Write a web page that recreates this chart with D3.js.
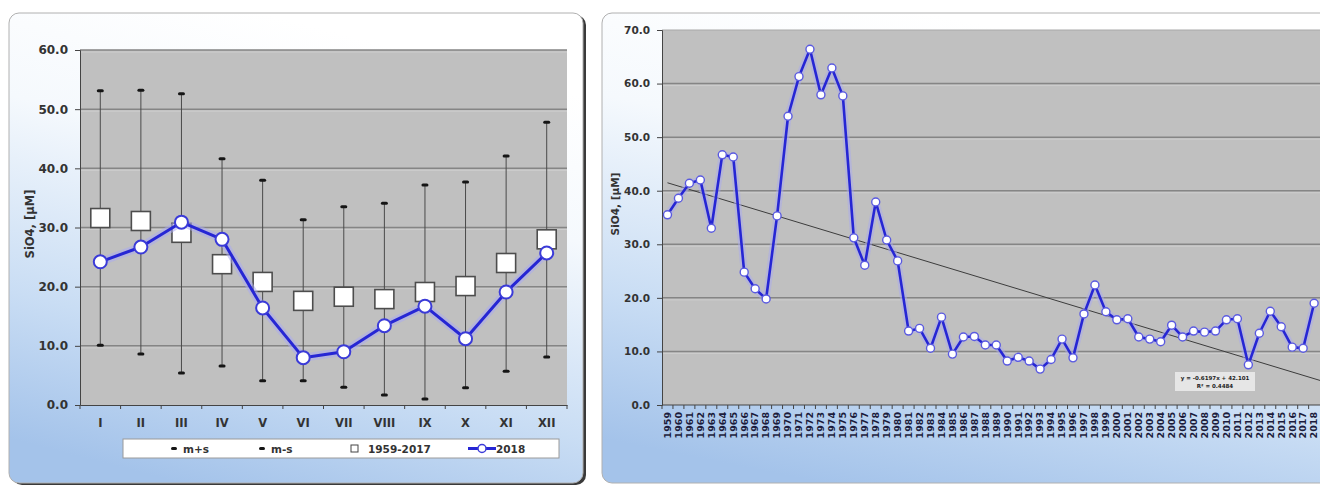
<!DOCTYPE html>
<html>
<head>
<meta charset="utf-8">
<script src="https://cdn.jsdelivr.net/npm/d3@7"></script>
<style>
  html, body { margin: 0; padding: 0; background: #ffffff; }
  svg { display: block; }
  text { font-family: "DejaVu Sans", Verdana, sans-serif; font-weight: bold; }
</style>
</head>
<body>
<svg id="chart" width="1320" height="485"></svg>
<script>
// ---- Monthly climatology of SiO4 (µM) ----
const months = ["I", "II", "III", "IV", "V", "VI", "VII", "VIII", "IX", "X", "XI", "XII"];
const meanPlusSd  = [53.1, 53.2, 52.6, 41.6, 38.0, 31.3, 33.5, 34.1, 37.2, 37.7, 42.1, 47.8];
const meanMinusSd = [10.1, 8.6, 5.4, 6.6, 4.1, 4.1, 3.0, 1.7, 1.0, 2.9, 5.7, 8.1];
const mean1959to2017 = [31.6, 31.1, 29.1, 23.8, 20.8, 17.6, 18.3, 17.9, 19.1, 20.1, 24.0, 28.0];
const values2018 = [24.2, 26.7, 30.9, 28.0, 16.4, 8.0, 9.0, 13.4, 16.7, 11.2, 19.1, 25.7];
const monthlyTicks = [0, 10, 20, 30, 40, 50, 60];
const legendLabels = ["m+s", "m-s", "1959-2017", "2018"];

// ---- Annual mean SiO4 (µM), 1959–2018 ----
const years = [1959, 1960, 1961, 1962, 1963, 1964, 1965, 1966, 1967, 1968,
               1969, 1970, 1971, 1972, 1973, 1974, 1975, 1976, 1977, 1978,
               1979, 1980, 1981, 1982, 1983, 1984, 1985, 1986, 1987, 1988,
               1989, 1990, 1991, 1992, 1993, 1994, 1995, 1996, 1997, 1998,
               1999, 2000, 2001, 2002, 2003, 2004, 2005, 2006, 2007, 2008,
               2009, 2010, 2011, 2012, 2013, 2014, 2015, 2016, 2017, 2018];
const annualSiO4 = [35.5, 38.6, 41.4, 42.0, 33.0, 46.7, 46.3, 24.8, 21.7, 19.8,
                    35.3, 53.9, 61.3, 66.4, 57.9, 62.9, 57.7, 31.2, 26.1, 37.9,
                    30.8, 26.9, 13.8, 14.3, 10.6, 16.4, 9.5, 12.7, 12.8, 11.2,
                    11.2, 8.2, 8.9, 8.2, 6.7, 8.5, 12.3, 8.8, 17.0, 22.4,
                    17.4, 15.9, 16.1, 12.7, 12.3, 11.8, 14.9, 12.7, 13.8, 13.6,
                    13.8, 15.9, 16.1, 7.5, 13.4, 17.5, 14.6, 10.8, 10.6, 19.0];
const annualTicks = [0, 10, 20, 30, 40, 50, 60, 70];

const yTitle = "SiO4, [µM]";

const svg = d3.select("#chart");
const defs = svg.append("defs");

// card background: white at the top fading to light blue at the bottom
const grad = defs.append("linearGradient")
  .attr("id", "cardFill")
  .attr("x1", 0.6).attr("y1", 0.05).attr("x2", 0.3).attr("y2", 1);
grad.append("stop").attr("offset", 0).attr("stop-color", "#ffffff");
grad.append("stop").attr("offset", 0.3).attr("stop-color", "#f5f9fd");
grad.append("stop").attr("offset", 0.7).attr("stop-color", "#c9ddf4");
grad.append("stop").attr("offset", 1).attr("stop-color", "#a4c3ea");

function card(x, y, w, h, shadow) {
  if (shadow) {
    svg.append("rect").attr("x", x + 3).attr("y", y + 2).attr("width", w).attr("height", h)
      .attr("rx", 10).attr("fill", "#3a3a3a");
  }
  svg.append("rect").attr("x", x).attr("y", y).attr("width", w).attr("height", h)
    .attr("rx", 10).attr("fill", "url(#cardFill)").attr("stroke", "#b0b0b0").attr("stroke-width", 1);
}

function grid(g, scale, ticks, x0, x1) {
  g.selectAll("line.grid").data(ticks.filter(t => t > 0)).join("line")
    .attr("class", "grid")
    .attr("x1", x0).attr("x2", x1)
    .attr("y1", d => scale(d)).attr("y2", d => scale(d))
    .attr("stroke", "#858585").attr("stroke-width", 1.5);
  g.selectAll("line.gridhi").data(ticks.filter(t => t > 0)).join("line")
    .attr("class", "gridhi")
    .attr("x1", x0).attr("x2", x1)
    .attr("y1", d => scale(d) + 2).attr("y2", d => scale(d) + 2)
    .attr("stroke", "#cdcdcd").attr("stroke-width", 1);
}

// ================= Left chart: monthly values =================
card(9, 13, 574, 470, true);

const xL = d3.scaleBand().domain(months).range([80, 567]);
const yL = d3.scaleLinear().domain([0, 60]).range([405, 50]);
const left = svg.append("g");

left.append("rect").attr("x", 80).attr("y", yL(60)).attr("width", 487).attr("height", yL(0) - yL(60))
  .attr("fill", "#c0c0c0");
grid(left, yL, monthlyTicks, 80, 567);

// y axis
const yAxisL = left.append("g").attr("transform", "translate(80,0)")
  .call(d3.axisLeft(yL).tickValues(monthlyTicks).tickFormat(d3.format(".1f")).tickSize(5).tickPadding(7));
yAxisL.select(".domain").attr("stroke", "#444");
yAxisL.selectAll(".tick line").attr("stroke", "#444");
yAxisL.selectAll("text").attr("font-size", 12).attr("fill", "#333");

// x axis
const xAxisL = left.append("g").attr("transform", "translate(0,405)")
  .call(d3.axisBottom(xL).tickSize(0).tickPadding(14));
xAxisL.select(".domain").attr("stroke", "#444").attr("stroke-width", 1.2);
xAxisL.selectAll("text").attr("font-size", 11.5).attr("fill", "#333");
left.selectAll("line.xtick").data(months.concat(["end"])).join("line")
  .attr("class", "xtick")
  .attr("x1", d => d === "end" ? xL.range()[1] : xL(d))
  .attr("x2", d => d === "end" ? xL.range()[1] : xL(d))
  .attr("y1", 405).attr("y2", 409).attr("stroke", "#444");

// m±s whiskers
const cx = d => xL(d) + xL.bandwidth() / 2;
left.selectAll("line.whisker").data(months).join("line")
  .attr("class", "whisker")
  .attr("x1", cx).attr("x2", cx)
  .attr("y1", (d, i) => yL(meanMinusSd[i])).attr("y2", (d, i) => yL(meanPlusSd[i]))
  .attr("stroke", "#4a4a4a").attr("stroke-width", 1);
[meanPlusSd, meanMinusSd].forEach(arr => {
  left.append("g").selectAll("rect").data(months).join("rect")
    .attr("x", d => cx(d) - 3.5).attr("y", (d, i) => yL(arr[i]) - 1.5)
    .attr("width", 7).attr("height", 3).attr("rx", 1.5).attr("fill", "#151515");
});

// 1959-2017 means (squares)
left.append("g").selectAll("rect").data(months).join("rect")
  .attr("x", d => cx(d) - 9.5).attr("y", (d, i) => yL(mean1959to2017[i]) - 9.5)
  .attr("width", 19).attr("height", 19)
  .attr("fill", "#ffffff").attr("stroke", "#4d4d4d").attr("stroke-width", 1.6);

// 2018 line
const lineL = d3.line().x(d => cx(d.m)).y(d => yL(d.v));
const pts2018 = months.map((m, i) => ({ m, v: values2018[i] }));
left.append("path").datum(pts2018).attr("d", lineL)
  .attr("fill", "none").attr("stroke", "#aaaaf0").attr("stroke-opacity", 0.55).attr("stroke-width", 8)
  .attr("stroke-linejoin", "round");
left.append("path").datum(pts2018).attr("d", lineL)
  .attr("fill", "none").attr("stroke", "#2626d4").attr("stroke-width", 3).attr("stroke-linejoin", "round");
left.append("g").selectAll("circle").data(pts2018).join("circle")
  .attr("cx", d => cx(d.m)).attr("cy", d => yL(d.v)).attr("r", 6.5)
  .attr("fill", "#ffffff").attr("stroke", "#3b3bd8").attr("stroke-width", 2);

// y title
left.append("text").attr("transform", "translate(34,224) rotate(-90)")
  .attr("text-anchor", "middle").attr("font-size", 11.5).attr("fill", "#333").text(yTitle);

// legend
const lg = left.append("g");
lg.append("rect").attr("x", 123).attr("y", 439).attr("width", 436).attr("height", 19)
  .attr("fill", "#ffffff").attr("stroke", "#9a9a9a").attr("stroke-width", 1);
const ly = 448.5;
lg.append("rect").attr("x", 171).attr("y", ly - 1.5).attr("width", 6).attr("height", 3).attr("rx", 1.5).attr("fill", "#151515");
lg.append("text").attr("x", 183).attr("y", ly + 4).attr("font-size", 10.5).attr("fill", "#333").text(legendLabels[0]);
lg.append("rect").attr("x", 259).attr("y", ly - 1.5).attr("width", 6).attr("height", 3).attr("rx", 1.5).attr("fill", "#151515");
lg.append("text").attr("x", 271).attr("y", ly + 4).attr("font-size", 10.5).attr("fill", "#333").text(legendLabels[1]);
lg.append("rect").attr("x", 351).attr("y", ly - 3.5).attr("width", 7).attr("height", 7)
  .attr("fill", "#ffffff").attr("stroke", "#444").attr("stroke-width", 1);
lg.append("text").attr("x", 368).attr("y", ly + 4).attr("font-size", 10.5).attr("fill", "#333").text(legendLabels[2]);
lg.append("line").attr("x1", 468).attr("x2", 496).attr("y1", ly).attr("y2", ly)
  .attr("stroke", "#2626d4").attr("stroke-width", 3);
lg.append("circle").attr("cx", 482).attr("cy", ly).attr("r", 4)
  .attr("fill", "#ffffff").attr("stroke", "#3b3bd8").attr("stroke-width", 1.5);
lg.append("text").attr("x", 496).attr("y", ly + 4).attr("font-size", 10.5).attr("fill", "#333").text(legendLabels[3]);

// ================= Right chart: annual series =================
card(602, 13, 740, 470, false);

const xR = d3.scaleBand().domain(years).range([662, 662 + years.length * 10.96]);
const yR = d3.scaleLinear().domain([0, 70]).range([405, 30]);
const right = svg.append("g");

right.append("rect").attr("x", 662).attr("y", yR(70)).attr("width", 1320 - 662).attr("height", yR(0) - yR(70))
  .attr("fill", "#c0c0c0");
right.append("line").attr("x1", 662).attr("x2", 1320).attr("y1", yR(70)).attr("y2", yR(70))
  .attr("stroke", "#a8a8a8").attr("stroke-width", 1);
grid(right, yR, annualTicks.filter(t => t < 70), 662, 1320);

const yAxisR = right.append("g").attr("transform", "translate(662,0)")
  .call(d3.axisLeft(yR).tickValues(annualTicks).tickFormat(d3.format(".1f")).tickSize(5).tickPadding(7));
yAxisR.select(".domain").attr("stroke", "#444");
yAxisR.selectAll(".tick line").attr("stroke", "#444");
yAxisR.selectAll("text").attr("font-size", 10.5).attr("fill", "#333");

const xAxisR = right.append("g").attr("transform", "translate(0,405)")
  .call(d3.axisBottom(xR).tickSize(0).tickPadding(0));
xAxisR.select(".domain").attr("stroke", "#444").attr("stroke-width", 1.2).attr("d", "M662,0H1320");
xAxisR.selectAll("text")
  .attr("font-size", 9.5).attr("fill", "#1c1c3c")
  .attr("text-anchor", "end")
  .attr("transform", "translate(0,7) rotate(-90)")
  .attr("x", 0).attr("y", 0).attr("dy", "0.35em");
right.selectAll("line.xtick").data(years).join("line")
  .attr("class", "xtick")
  .attr("x1", d => xR(d)).attr("x2", d => xR(d))
  .attr("y1", 405).attr("y2", 409).attr("stroke", "#444");

// linear trend over the year index 1..n
const n = years.length;
const idx = d3.range(1, n + 1);
const mx = d3.mean(idx), my = d3.mean(annualSiO4);
const sxy = d3.sum(idx, (t, i) => (t - mx) * (annualSiO4[i] - my));
const sxx = d3.sum(idx, t => (t - mx) * (t - mx));
const slope = sxy / sxx, intercept = my - slope * mx;
const ssTot = d3.sum(annualSiO4, v => (v - my) * (v - my));
const ssRes = d3.sum(annualSiO4, (v, i) => Math.pow(v - (intercept + slope * idx[i]), 2));
const r2 = 1 - ssRes / ssTot;
const cxR = d => xR(d) + xR.bandwidth() / 2;

// trend line continues to the right edge of the plot
const xEnd = 1320;
const tEnd = 1 + (xEnd - cxR(years[0])) / xR.step();
right.append("line")
  .attr("x1", cxR(years[0])).attr("y1", yR(intercept + slope * 1))
  .attr("x2", xEnd).attr("y2", yR(intercept + slope * tEnd))
  .attr("stroke", "#3c3c3c").attr("stroke-width", 1);

const lineR = d3.line().x(d => cxR(d.y)).y(d => yR(d.v));
const ptsAnnual = years.map((y, i) => ({ y, v: annualSiO4[i] }));
right.append("path").datum(ptsAnnual).attr("d", lineR)
  .attr("fill", "none").attr("stroke", "#aaaaf0").attr("stroke-opacity", 0.5).attr("stroke-width", 7)
  .attr("stroke-linejoin", "round");
right.append("path").datum(ptsAnnual).attr("d", lineR)
  .attr("fill", "none").attr("stroke", "#2626d4").attr("stroke-width", 2.6).attr("stroke-linejoin", "round");
right.append("g").selectAll("circle").data(ptsAnnual).join("circle")
  .attr("cx", d => cxR(d.y)).attr("cy", d => yR(d.v)).attr("r", 4)
  .attr("fill", "#ffffff").attr("stroke", "#5a5ae0").attr("stroke-width", 1.4);

// trend equation box
const eq = right.append("g");
eq.append("rect").attr("x", 1175).attr("y", 372).attr("width", 80).attr("height", 19)
  .attr("fill", "#ececec").attr("fill-opacity", 0.85);
eq.append("text").attr("x", 1215).attr("y", 380).attr("text-anchor", "middle")
  .attr("font-size", 5.5).attr("fill", "#222")
  .text(`y = ${slope.toFixed(4)}x + ${intercept.toFixed(3)}`);
eq.append("text").attr("x", 1215).attr("y", 388).attr("text-anchor", "middle")
  .attr("font-size", 5.5).attr("fill", "#222")
  .text(`R² = ${r2.toFixed(4)}`);

right.append("text").attr("transform", "translate(619,204) rotate(-90)")
  .attr("text-anchor", "middle").attr("font-size", 10.5).attr("fill", "#333").text(yTitle);
</script>
</body>
</html>
